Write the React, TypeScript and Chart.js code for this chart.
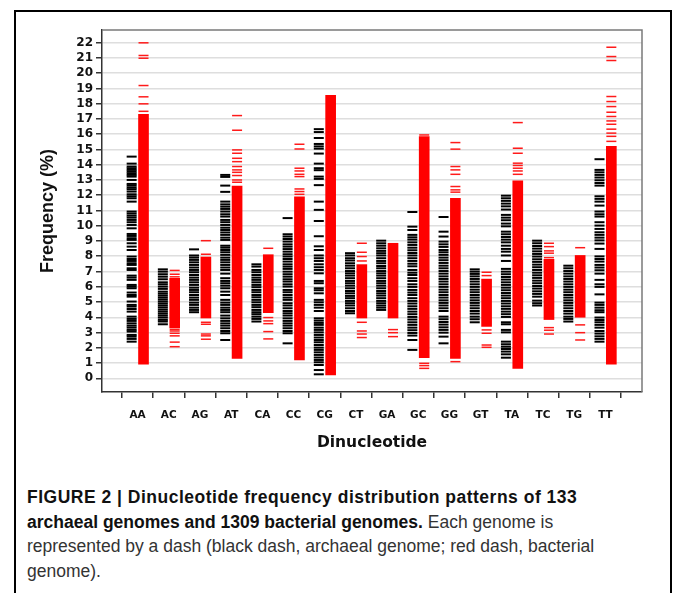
import React, { useEffect, useRef } from "react";
import { Chart, registerables } from "chart.js";

Chart.register(...registerables);

const categories = ["AA", "AC", "AG", "AT", "CA", "CC", "CG", "CT", "GA", "GC", "GG", "GT", "TA", "TC", "TG", "TT"];
const yTickValues = [0, 1, 2, 3, 4, 5, 6, 7, 8, 9, 10, 11, 12, 13, 14, 15, 16, 17, 18, 19, 20, 21, 22];

// Archaeal genomes (black dashes), frequency %
const archaealAA = [14.53, 14.07, 13.88, 13.77, 13.66, 13.55, 13.44, 13.33, 13.22, 13.0, 12.74, 12.63, 12.5, 12.39, 12.24, 12.06, 11.93, 11.8, 11.58, 10.93, 10.8, 10.66, 10.53, 10.38, 10.23, 10.05, 9.83, 9.46, 9.33, 9.18, 9.07, 8.85, 8.63, 8.41, 7.98, 7.82, 7.69, 7.54, 7.43, 7.21, 7.1, 6.73, 6.6, 6.45, 6.12, 6.01, 5.9, 5.62, 5.46, 5.35, 5.03, 4.81, 4.7, 4.54, 4.37, 4.04, 3.89, 3.76, 3.6, 3.45, 3.32, 3.17, 3.06, 2.84, 2.73, 2.58, 2.4];
const archaealAC = [7.14, 6.99, 6.82, 6.66, 6.49, 6.29, 6.16, 6.01, 5.86, 5.68, 5.55, 5.42, 5.29, 5.16, 5.03, 4.9, 4.77, 4.64, 4.5, 4.37, 4.24, 4.11, 3.98, 3.83, 3.72, 3.54];
const archaealAG = [8.45, 8.05, 7.91, 7.76, 7.6, 7.43, 7.26, 7.1, 6.95, 6.77, 6.6, 6.45, 6.29, 6.12, 5.94, 5.79, 5.64, 5.46, 5.29, 5.14, 4.96, 4.81, 4.63, 4.48, 4.33];
const archaealAT = [13.33, 13.2, 12.63, 12.22, 11.58, 11.4, 11.25, 11.1, 10.93, 10.75, 10.6, 10.38, 10.23, 10.05, 9.87, 9.72, 9.56, 9.4, 9.22, 9.07, 8.69, 8.56, 8.41, 8.26, 8.09, 7.91, 7.76, 7.6, 7.43, 7.26, 7.1, 6.86, 6.56, 6.38, 6.23, 6.07, 5.9, 5.68, 5.46, 5.14, 4.96, 4.81, 4.63, 4.48, 4.33, 4.11, 3.93, 3.76, 3.6, 3.45, 3.28, 3.1, 2.95, 2.51];
const archaealCA = [7.47, 7.32, 7.1, 6.95, 6.77, 6.6, 6.45, 6.29, 6.12, 5.97, 5.79, 5.64, 5.46, 5.31, 5.14, 4.98, 4.81, 4.66, 4.48, 4.33, 4.2, 4.04, 3.89, 3.72];
const archaealCC = [10.5, 9.44, 9.29, 9.13, 8.96, 8.78, 8.63, 8.47, 8.3, 8.13, 7.98, 7.82, 7.65, 7.47, 7.32, 7.17, 6.99, 6.82, 6.66, 6.49, 6.34, 6.16, 6.01, 5.79, 5.64, 5.46, 5.29, 5.14, 4.92, 4.77, 4.59, 4.41, 4.26, 4.11, 3.93, 3.76, 3.6, 3.45, 3.28, 3.1, 2.95, 2.29];
const archaealCG = [16.33, 16.14, 15.75, 15.36, 15.2, 15.05, 14.73, 14.07, 13.77, 13.64, 13.22, 13.07, 12.66, 11.58, 11.04, 10.31, 9.31, 8.65, 8.41, 8.05, 7.87, 7.69, 7.47, 7.28, 7.1, 6.88, 6.38, 6.23, 5.9, 5.77, 5.57, 5.14, 4.98, 4.81, 4.63, 4.41, 3.93, 3.78, 3.63, 3.5, 3.32, 3.17, 3.01, 2.84, 2.67, 2.51, 2.36, 2.18, 2.01, 1.86, 1.7, 1.53, 1.36, 1.2, 1.05, 0.87, 0.54, 0.26];
const archaealCT = [8.2, 8.05, 7.87, 7.72, 7.54, 7.38, 7.21, 7.03, 6.88, 6.73, 6.56, 6.38, 6.23, 6.07, 5.9, 5.72, 5.57, 5.4, 5.25, 5.07, 4.92, 4.77, 4.59, 4.41, 4.26];
const archaealGA = [9.02, 8.85, 8.69, 8.52, 8.35, 8.2, 8.05, 7.87, 7.69, 7.54, 7.36, 7.21, 7.03, 6.88, 6.73, 6.56, 6.38, 6.23, 6.07, 5.9, 5.72, 5.57, 5.42, 5.25, 5.07, 4.92, 4.77, 4.63, 4.48];
const archaealGC = [10.9, 9.94, 9.72, 9.4, 9.24, 9.09, 8.91, 8.74, 8.56, 8.39, 8.21, 8.05, 7.87, 7.69, 7.51, 7.34, 7.1, 6.92, 6.77, 6.56, 6.38, 6.16, 5.99, 5.79, 5.62, 5.46, 5.25, 5.07, 4.9, 4.72, 4.55, 4.37, 4.2, 4.02, 3.85, 3.67, 3.5, 3.32, 3.15, 2.97, 2.8, 2.51, 1.86];
const archaealGG = [10.57, 9.61, 9.29, 8.96, 8.78, 8.61, 8.41, 8.26, 8.09, 7.91, 7.74, 7.56, 7.38, 7.21, 7.03, 6.86, 6.68, 6.51, 6.34, 6.16, 5.99, 5.81, 5.64, 5.46, 5.29, 5.11, 4.94, 4.77, 4.59, 4.41, 4.04, 3.87, 3.69, 3.52, 3.34, 3.17, 2.99, 2.73, 2.29];
const archaealGT = [7.14, 6.99, 6.84, 6.68, 6.51, 6.34, 6.16, 5.99, 5.81, 5.64, 5.46, 5.29, 5.11, 4.94, 4.77, 4.59, 4.41, 4.24, 4.04, 3.87, 3.67];
const archaealTA = [11.97, 11.8, 11.63, 11.45, 11.27, 11.06, 10.71, 10.53, 10.36, 10.14, 9.96, 9.61, 9.44, 9.26, 9.09, 8.91, 8.69, 8.48, 8.3, 8.05, 7.69, 7.17, 6.99, 6.82, 6.64, 6.47, 6.29, 6.12, 5.94, 5.77, 5.59, 5.42, 5.25, 5.07, 4.9, 4.72, 4.55, 4.37, 4.2, 4.02, 3.67, 3.54, 3.17, 3.01, 2.4, 2.23, 2.07, 1.92, 1.75, 1.57, 1.35];
const archaealTC = [9.02, 8.85, 8.67, 8.5, 8.32, 8.15, 7.98, 7.8, 7.63, 7.45, 7.28, 7.1, 6.92, 6.75, 6.58, 6.4, 6.23, 6.05, 5.88, 5.7, 5.53, 5.35, 5.09, 4.92, 4.77];
const archaealTG = [7.38, 7.21, 7.03, 6.86, 6.68, 6.51, 6.34, 6.16, 5.99, 5.81, 5.64, 5.46, 5.29, 5.11, 4.94, 4.77, 4.59, 4.41, 4.24, 4.04, 3.89, 3.72];
const archaealTT = [14.36, 13.66, 13.5, 13.33, 13.16, 12.98, 12.8, 12.63, 11.93, 11.76, 11.58, 11.32, 10.93, 10.75, 10.6, 10.23, 10.01, 9.79, 9.57, 9.4, 9.22, 9.04, 8.83, 8.48, 7.99, 7.82, 7.65, 7.43, 7.26, 7.08, 6.86, 6.45, 6.16, 5.99, 5.5, 4.96, 4.81, 4.63, 4.46, 4.33, 3.98, 3.82, 3.67, 3.5, 3.32, 3.1, 2.93, 2.75, 2.58, 2.4];

// Bacterial genomes (red dashes): dense core range per dinucleotide
const bacterialCoreLow = [0.92, 3.3, 3.95, 1.3, 4.3, 1.2, 0.22, 3.95, 3.95, 1.35, 1.3, 3.4, 0.65, 3.85, 4.0, 0.92];
const bacterialCoreHigh = [17.3, 6.55, 7.95, 12.6, 8.1, 11.9, 18.55, 7.45, 8.85, 15.85, 11.8, 6.5, 12.95, 7.8, 8.05, 15.2];

// Bacterial genomes outside the dense core
const bacterialAA = [21.99, 21.16, 20.98, 19.19, 18.45, 17.99, 17.5];
const bacterialAC = [7.07, 6.82, 6.65, 3.2, 3.1, 2.95, 2.78, 2.37, 2.07];
const bacterialAG = [9.02, 8.13, 3.67, 3.54, 2.9, 2.78, 2.56];
const bacterialAT = [17.22, 16.26, 14.97, 14.75, 14.42, 14.2, 13.88, 13.66, 13.5, 13.29, 13.0, 12.85];
const bacterialCA = [8.52, 3.98, 3.76, 3.58, 3.06, 2.58];
const bacterialCC = [15.34, 15.03, 13.77, 13.59, 13.37, 13.22, 12.41, 12.24, 12.06];
const bacterialCG: number[] = [];
const bacterialCT = [8.85, 8.26, 7.98, 7.69, 3.67, 3.1, 2.9, 2.67];
const bacterialGA = [3.19, 2.99, 2.73];
const bacterialGC = [15.95, 0.98, 0.83, 0.65];
const bacterialGG = [15.45, 15.02, 13.88, 13.66, 13.37, 12.57, 12.35, 12.2, 1.09];
const bacterialGT = [6.95, 6.73, 3.17, 2.95, 2.18, 2.03];
const bacterialTA = [16.76, 15.08, 14.75, 14.1, 13.95, 13.77, 13.59, 13.37];
const bacterialTC = [8.85, 8.63, 8.35, 8.2, 7.91, 3.32, 3.15, 2.9];
const bacterialTG = [8.56, 3.5, 2.99, 2.51];
const bacterialTT = [21.7, 21.09, 20.83, 18.47, 18.14, 17.81, 17.44, 17.16, 16.87, 16.65, 16.33, 16.07, 15.86, 15.53];

const BLACK_SHIFT = -0.19;
const RED_SHIFT = 0.19;

export default function App() {
  const canvasRef = useRef<HTMLCanvasElement>(null);

  useEffect(() => {
    const archaeal = [archaealAA, archaealAC, archaealAG, archaealAT, archaealCA, archaealCC, archaealCG, archaealCT, archaealGA, archaealGC, archaealGG, archaealGT, archaealTA, archaealTC, archaealTG, archaealTT];
    const bacterial = [bacterialAA, bacterialAC, bacterialAG, bacterialAT, bacterialCA, bacterialCC, bacterialCG, bacterialCT, bacterialGA, bacterialGC, bacterialGG, bacterialGT, bacterialTA, bacterialTC, bacterialTG, bacterialTT];

    const blackPts = archaeal.flatMap((vals, i) => vals.map((v) => ({ x: i + BLACK_SHIFT, y: v })));
    const redPts = bacterial.flatMap((vals, i) => vals.map((v) => ({ x: i + RED_SHIFT, y: v })));
    const redCore = categories.map((_, i) => ({ x: i + RED_SHIFT, y: [bacterialCoreLow[i], bacterialCoreHigh[i]] }));

    const framePlugin = {
      id: "frame",
      afterDraw(chart: any) {
        const { ctx, chartArea } = chart;
        ctx.save();
        ctx.strokeStyle = "#7a7a7a";
        ctx.lineWidth = 1.5;
        ctx.beginPath();
        ctx.moveTo(chartArea.left, chartArea.top);
        ctx.lineTo(chartArea.right, chartArea.top);
        ctx.lineTo(chartArea.right, chartArea.bottom);
        ctx.stroke();
        ctx.restore();
      },
    };

    const chart = new Chart(canvasRef.current as HTMLCanvasElement, {
      type: "scatter",
      data: {
        datasets: [
          {
            type: "bar",
            label: "Bacterial core",
            data: redCore as any,
            backgroundColor: "#ff0000",
            borderWidth: 0,
            barThickness: 10,
            grouped: false,
          } as any,
          {
            type: "scatter",
            label: "Bacterial",
            data: redPts,
            pointStyle: "line",
            pointRadius: 5,
            pointBorderWidth: 1.5,
            pointBorderColor: "#ff1a1a",
            pointBackgroundColor: "#ff1a1a",
          } as any,
          {
            type: "scatter",
            label: "Archaeal",
            data: blackPts,
            pointStyle: "line",
            pointRadius: 5,
            pointBorderWidth: 2,
            pointBorderColor: "#000000",
            pointBackgroundColor: "#000000",
          } as any,
        ],
      },
      options: {
        responsive: false,
        animation: false,
        events: [],
        layout: { padding: { top: 30, right: 33, bottom: 8, left: 0 } },
        plugins: { legend: { display: false }, tooltip: { enabled: false } },
        scales: {
          x: {
            type: "linear",
            offset: false,
            min: -1.141,
            max: 16.173,
            afterBuildTicks: (s: any) => {
              s.ticks = categories.map((_, i) => ({ value: i }));
            },
            afterFit: (s: any) => {
              s.height = 60;
            },
            ticks: {
              autoSkip: false,
              maxRotation: 0,
              padding: 11,
              color: "#111",
              font: { family: "'DejaVu Sans', sans-serif", weight: "bold", size: 10.5 },
              callback: (v: any) => categories[v] ?? "",
            },
            grid: { offset: true, drawOnChartArea: false, tickLength: 6, color: "#333", lineWidth: 1.5 },
            border: { display: true, color: "#333", width: 1.5 },
            title: {
              display: true,
              text: "Dinucleotide",
              color: "#111",
              padding: 0,
              font: { family: "'DejaVu Sans', sans-serif", weight: "bold", size: 15.5 },
            },
          },
          y: {
            type: "linear",
            min: -0.9,
            max: 22.83,
            afterBuildTicks: (s: any) => {
              s.ticks = yTickValues.map((v) => ({ value: v }));
            },
            afterFit: (s: any) => {
              s.width = 102;
            },
            ticks: {
              autoSkip: false,
              padding: 3,
              color: "#111",
              font: { family: "'DejaVu Sans', sans-serif", weight: "bold", size: 12 },
            },
            grid: { color: "#dedede", lineWidth: 1.5, tickColor: "#333", tickLength: 6 },
            border: { display: true, color: "#333", width: 1.5 },
            title: {
              display: true,
              text: "Frequency (%)",
              color: "#111",
              padding: { top: 37, bottom: 0 },
              font: { family: "'Liberation Sans', Arial, sans-serif", weight: "bold", size: 18 },
            },
          },
        },
      } as any,
      plugins: [framePlugin],
    });
    return () => chart.destroy();
  }, []);

  return (
    <div style={{ position: "absolute", left: 0, top: 0, width: 675, height: 593, overflow: "hidden", background: "#fff" }}>
      <div
        style={{
          position: "absolute",
          left: 14,
          top: 10,
          width: 658,
          height: 620,
          border: "2px solid #000",
          boxSizing: "border-box",
        }}
      />
      <canvas ref={canvasRef} width={675} height={460} style={{ position: "absolute", left: 0, top: 0 }} />
      <div
        style={{
          position: "absolute",
          left: 27,
          top: 485,
          fontFamily: "'Liberation Sans', Arial, sans-serif",
          fontSize: 17.5,
          lineHeight: "24.5px",
          color: "#333",
          whiteSpace: "nowrap",
        }}
      >
        <div style={{ letterSpacing: "0.5px" }}>
          <b style={{ color: "#111" }}>FIGURE 2 | Dinucleotide frequency distribution patterns of 133</b>
        </div>
        <div>
          <b style={{ color: "#111" }}>archaeal genomes and 1309 bacterial genomes.</b> Each genome is
        </div>
        <div>represented by a dash (black dash, archaeal genome; red dash, bacterial</div>
        <div>genome).</div>
      </div>
    </div>
  );
}
